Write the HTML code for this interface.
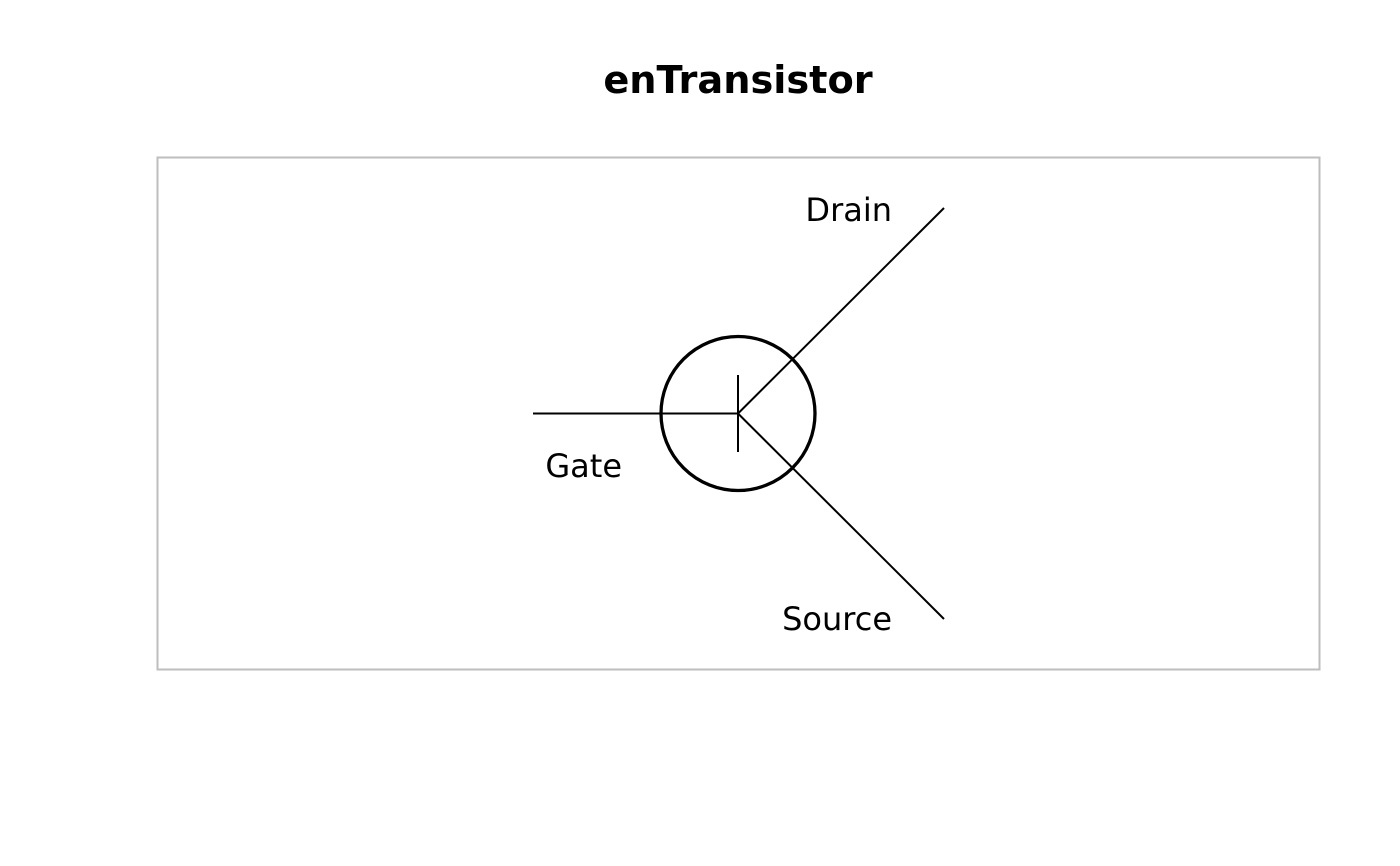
<!DOCTYPE html>
<html><head><style>html,body{margin:0;padding:0;background:#fff;}</style></head>
<body>
<svg width="1400" height="866" xmlns="http://www.w3.org/2000/svg" style="display:block">
<rect width="1400" height="866" fill="#fff"/>
<text x="738" y="93" text-anchor="middle" font-family="DejaVu Sans, sans-serif" font-weight="bold" font-size="38.3">enTransistor</text>
<rect x="157.5" y="157.5" width="1162" height="512" fill="none" stroke="#bebebe" stroke-width="2"/>
<circle cx="738" cy="413.5" r="77" fill="none" stroke="#000" stroke-width="3.3"/>
<line x1="533" y1="413.5" x2="738" y2="413.5" stroke="#000" stroke-width="2"/>
<line x1="738" y1="375" x2="738" y2="452" stroke="#000" stroke-width="2"/>
<line x1="738" y1="413.5" x2="944" y2="208" stroke="#000" stroke-width="2"/>
<line x1="738" y1="413.5" x2="944" y2="619" stroke="#000" stroke-width="2"/>
<g font-family="DejaVu Sans, sans-serif" font-size="32" fill="#000">
<text x="892" y="221" text-anchor="end">Drain</text>
<text x="622" y="477" text-anchor="end">Gate</text>
<text x="892" y="630" text-anchor="end">Source</text>
</g>
</svg>
</body></html>
